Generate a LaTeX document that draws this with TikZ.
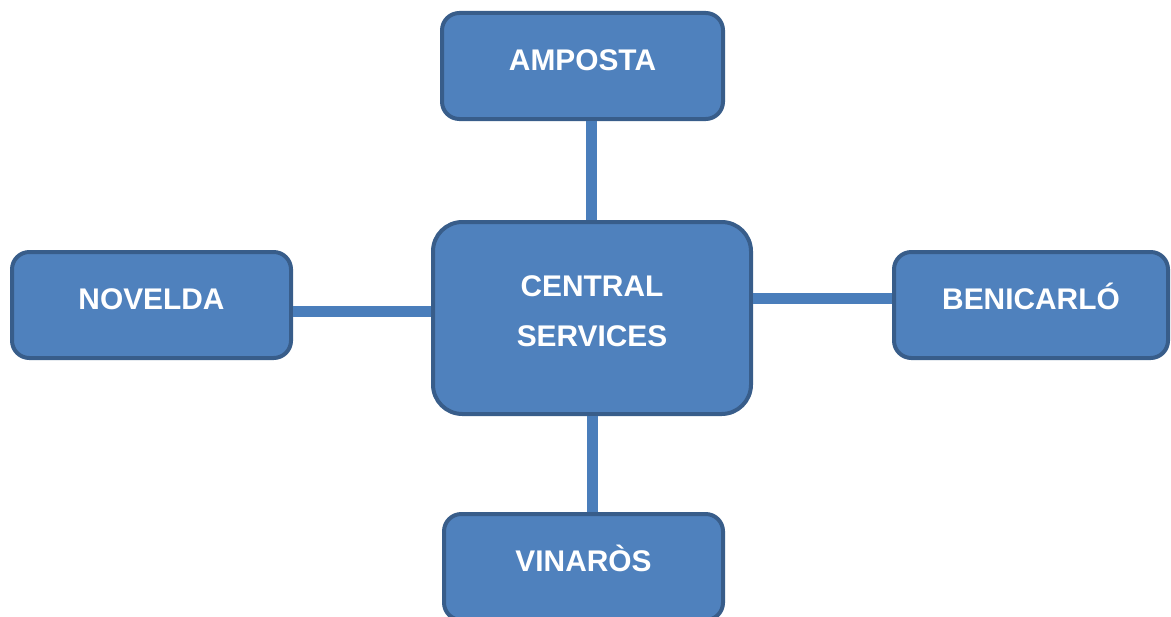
\documentclass[tikz,border=0pt]{standalone}
\usepackage{fontspec}
\setmainfont{Liberation Sans}
\definecolor{boxfill}{HTML}{4F81BD}
\definecolor{boxline}{HTML}{385D8A}
\definecolor{linkcol}{HTML}{4A7EBB}
\begin{document}
\begin{tikzpicture}[x=0.75pt,y=-0.75pt,
  office/.style={draw=boxline,fill=boxfill,line width=3pt,rounded corners=13pt,
    inner sep=0pt,text=white,font=\fontsize{22.4}{38}\selectfont\bfseries},
  branch/.style={office,minimum height=79.5pt,text height=12pt,text depth=6pt},
  link/.style={draw=linkcol,line width=8.25pt}]
\useasboundingbox (0,0) rectangle (1171,617);
\clip (0,0) rectangle (1171,617);
% branch offices and the central node
\node[branch,minimum width=210.75pt] (amposta) at (582.5,66) {AMPOSTA};
\node[branch,minimum width=209.25pt] (novelda) at (151.5,305) {NOVELDA};
\node[branch,minimum width=205.5pt] (benicarlo) at (1031,305) {BENICARLÓ};
\node[branch,minimum width=209.25pt] (vinaros) at (583.5,567) {VINARÒS};
\node[office,minimum width=238.5pt,minimum height=144pt,rounded corners=22pt,
  align=center,text depth=10.5pt] (central) at (592,318) {CENTRAL\\SERVICES};
% connector tracks
\coordinate (topx) at (591,0);
\coordinate (botx) at (592,0);
\coordinate (lefty) at (0,311);
\coordinate (righty) at (0,298.5);
\draw[link] (central.north -| topx) -- (amposta.south -| topx);
\draw[link] (central.south -| botx) -- (vinaros.north -| botx);
\draw[link] (central.west |- lefty) -- (novelda.east |- lefty);
\draw[link] (central.east |- righty) -- (benicarlo.west |- righty);
\end{tikzpicture}
\end{document}
